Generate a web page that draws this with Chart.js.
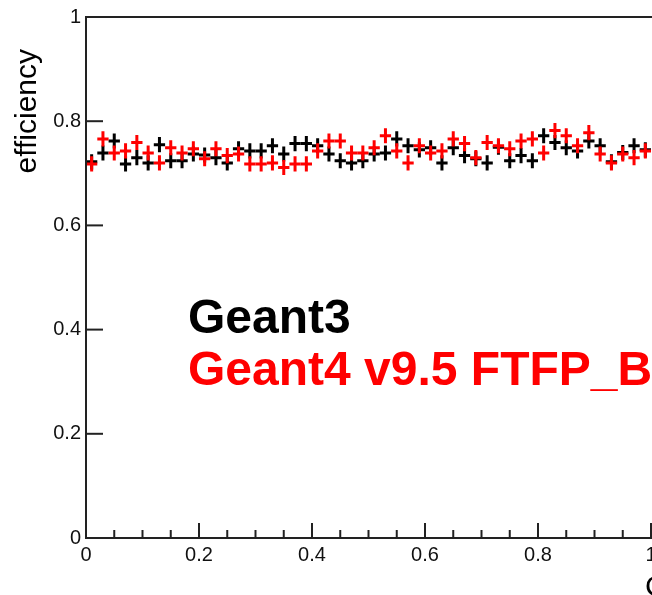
<!DOCTYPE html>
<html>
<head>
<meta charset="utf-8">
<script src="https://cdn.jsdelivr.net/npm/chart.js@4/dist/chart.umd.min.js"></script>
<style>
  html, body { margin: 0; padding: 0; background: #fff; overflow: hidden; width: 652px; height: 595px; }
  canvas { display: block; }
</style>
</head>
<body>
<canvas id="c" width="780" height="595"></canvas>
<script>
// Bin centres (bin width 0.02)
const binCenters = [0.01,0.03,0.05,0.07,0.09,0.11,0.13,0.15,0.17,0.19,
                    0.21,0.23,0.25,0.27,0.29,0.31,0.33,0.35,0.37,0.39,
                    0.41,0.43,0.45,0.47,0.49,0.51,0.53,0.55,0.57,0.59,
                    0.61,0.63,0.65,0.67,0.69,0.71,0.73,0.75,0.77,0.79,
                    0.81,0.83,0.85,0.87,0.89,0.91,0.93,0.95,0.97,0.99];
const binHalfWidth = 0.01;
const effError = 0.0145;

const geant3 = [0.722,0.739,0.762,0.718,0.730,0.720,0.755,0.724,0.724,0.737,
                0.735,0.730,0.720,0.747,0.743,0.743,0.753,0.737,0.757,0.757,
                0.753,0.737,0.724,0.720,0.724,0.737,0.739,0.766,0.753,0.745,
                0.749,0.720,0.749,0.734,0.728,0.720,0.750,0.724,0.734,0.724,
                0.772,0.759,0.749,0.743,0.762,0.753,0.722,0.740,0.753,0.745];

const geant4 = [0.718,0.766,0.739,0.743,0.759,0.739,0.720,0.749,0.739,0.747,
                0.728,0.747,0.734,0.737,0.718,0.718,0.720,0.711,0.718,0.718,
                0.743,0.762,0.762,0.739,0.739,0.749,0.772,0.743,0.720,0.753,
                0.739,0.743,0.766,0.757,0.730,0.759,0.753,0.747,0.762,0.766,
                0.739,0.782,0.772,0.753,0.778,0.737,0.720,0.737,0.730,0.743];

const yTickLabels = ['0','0.2','0.4','0.6','0.8','1'];
const xTickLabels = ['0','0.2','0.4','0.6','0.8','1'];
const seriesNames = ['Geant3','Geant4 v9.5 FTFP_BERT'];
const yTitle = 'efficiency';
const xTitle = 'Cos\u03B8';

const FONT = "'Liberation Sans', Arial, Helvetica, sans-serif";

function toPoints(vals) {
  return vals.map((v, i) => ({ x: binCenters[i], y: v }));
}

const isMajor = v => Math.abs(v / 0.2 - Math.round(v / 0.2)) < 1e-6;

const rootPlugin = {
  id: 'rootStyle',
  beforeDraw(chart) {
    const ctx = chart.ctx;
    ctx.save();
    ctx.fillStyle = '#fff';
    ctx.fillRect(0, 0, chart.width, chart.height);
    ctx.restore();
  },
  afterDatasetsDraw(chart) {
    const ctx = chart.ctx;
    const xs = chart.scales.x, ys = chart.scales.y;
    const ca = chart.chartArea;
    ctx.save();
    // error-bar crosses
    chart.data.datasets.forEach((ds) => {
      ctx.strokeStyle = ds.borderColor;
      ctx.lineWidth = 3;
      ctx.lineCap = 'butt';
      ds.data.forEach(p => {
        const x0 = xs.getPixelForValue(p.x - binHalfWidth);
        const x1 = xs.getPixelForValue(p.x + binHalfWidth);
        const xc = xs.getPixelForValue(p.x);
        const yc = ys.getPixelForValue(p.y);
        const y0 = ys.getPixelForValue(p.y - effError);
        const y1 = ys.getPixelForValue(p.y + effError);
        ctx.beginPath();
        ctx.moveTo(x0, yc); ctx.lineTo(x1, yc);
        ctx.moveTo(xc, y0); ctx.lineTo(xc, y1);
        ctx.stroke();
      });
    });
    // frame
    ctx.strokeStyle = '#222';
    ctx.lineWidth = 2;
    ctx.strokeRect(ca.left, ca.top, ca.right - ca.left, ca.bottom - ca.top);
    // x ticks (inside)
    xs.ticks.forEach(t => {
      const px = xs.getPixelForValue(t.value);
      const len = isMajor(t.value) ? 15 : 8;
      ctx.beginPath();
      ctx.moveTo(px, ca.bottom);
      ctx.lineTo(px, ca.bottom - len);
      ctx.stroke();
    });
    ys.ticks.forEach(t => {
      const py = ys.getPixelForValue(t.value);
      ctx.beginPath();
      ctx.moveTo(ca.left, py);
      ctx.lineTo(ca.left + 17, py);
      ctx.stroke();
    });
    // annotation text
    ctx.font = 'bold 48px ' + FONT;
    ctx.textBaseline = 'alphabetic';
    ctx.textAlign = 'left';
    ctx.fillStyle = '#000';
    ctx.fillText(seriesNames[0], ca.left + 102, 333);
    ctx.fillStyle = '#ff0000';
    ctx.fillText(seriesNames[1], ca.left + 102, 385);
    // y title
    ctx.fillStyle = '#000';
    ctx.font = '30px ' + FONT;
    ctx.save();
    ctx.translate(36, ca.top + 32);
    ctx.rotate(-Math.PI / 2);
    ctx.textAlign = 'right';
    ctx.textBaseline = 'alphabetic';
    ctx.fillText(yTitle, 0, 0);
    ctx.restore();
    // x title
    ctx.textAlign = 'left';
    ctx.textBaseline = 'top';
    ctx.fillText(xTitle, 645, 573);
    ctx.restore();
  }
};

new Chart(document.getElementById('c'), {
  type: 'scatter',
  data: {
    datasets: [
      { label: seriesNames[0], data: toPoints(geant3), borderColor: '#000000', backgroundColor: '#000000', pointRadius: 0, showLine: false },
      { label: seriesNames[1], data: toPoints(geant4), borderColor: '#ff0000', backgroundColor: '#ff0000', pointRadius: 0, showLine: false }
    ]
  },
  options: {
    responsive: false,
    animation: false,
    devicePixelRatio: 1,
    layout: { padding: { top: 16, right: 16, left: 0, bottom: 0 } },
    plugins: { legend: { display: false }, tooltip: { enabled: false } },
    scales: {
      x: {
        type: 'linear', min: 0, max: 1.2,
        grid: { display: false, drawTicks: false },
        border: { display: false },
        ticks: {
          stepSize: 0.05, autoSkip: false, maxRotation: 0, padding: 5,
          color: '#111', font: { family: FONT, size: 20 },
          callback: v => isMajor(v) ? (xTickLabels[Math.round(v / 0.2)] ?? '') : ''
        },
        afterFit: s => { s.height = 57; }
      },
      y: {
        type: 'linear', min: 0, max: 1,
        grid: { display: false, drawTicks: false },
        border: { display: false },
        ticks: {
          stepSize: 0.2, padding: 5,
          color: '#111', font: { family: FONT, size: 20 },
          callback: v => yTickLabels[Math.round(v / 0.2)]
        },
        afterFit: s => { s.width = 86; }
      }
    }
  },
  plugins: [rootPlugin]
});
</script>
</body>
</html>
